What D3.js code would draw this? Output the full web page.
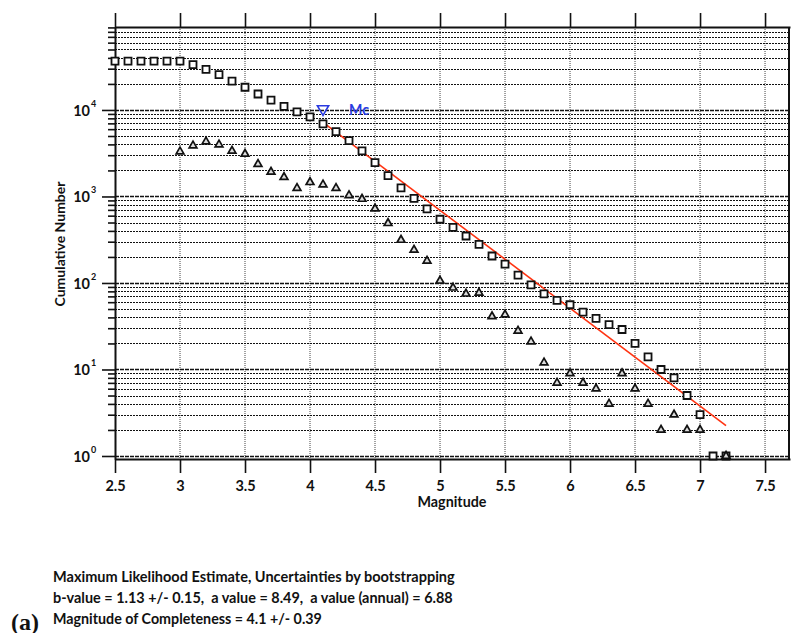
<!DOCTYPE html>
<html>
<head>
<meta charset="utf-8">
<script src="https://cdn.jsdelivr.net/npm/d3@7"></script>
<style>
body { margin: 0; background: #fff; }
svg text { font-family: Lato, "Open Sans", sans-serif; font-weight: 700; fill: #111; white-space: pre; }
</style>
</head>
<body>
<svg id="chart" width="791" height="633"></svg>
<script>
// magnitude bins and cumulative counts (squares)
var magnitudes = [2.5, 2.6, 2.7, 2.8, 2.9, 3.0, 3.1, 3.2, 3.3, 3.4, 3.5, 3.6, 3.7, 3.8, 3.9, 4.0,
    4.1, 4.2, 4.3, 4.4, 4.5, 4.6, 4.7, 4.8, 4.9, 5.0, 5.1, 5.2, 5.3, 5.4, 5.5, 5.6, 5.7, 5.8, 5.9,
    6.0, 6.1, 6.2, 6.3, 6.4, 6.5, 6.6, 6.7, 6.8, 6.9, 7.0, 7.1, 7.2];
var cumulative = [36700, 36700, 36700, 36700, 36700, 36700, 33400, 29500, 25600, 21600, 18300,
    15300, 13000, 11000, 9480, 8300, 6890, 5610, 4420, 3360, 2460, 1740, 1260, 953, 717, 545, 440,
    349, 280, 205, 165, 123, 95, 75, 63, 56, 46, 39, 33, 29, 20, 14, 10, 8, 5, 3, 1, 1];

// non-cumulative counts per bin (triangles)
var binMagnitudes = [3.0, 3.1, 3.2, 3.3, 3.4, 3.5, 3.6, 3.7, 3.8, 3.9, 4.0, 4.1, 4.2, 4.3, 4.4,
    4.5, 4.6, 4.7, 4.8, 4.9, 5.0, 5.1, 5.2, 5.3, 5.4, 5.5, 5.6, 5.7, 5.8, 5.9, 6.0, 6.1, 6.2, 6.3,
    6.4, 6.5, 6.6, 6.7, 6.8, 6.9, 7.0, 7.2];
var binCounts = [3300, 3870, 4300, 3970, 3360, 3100, 2370, 1920, 1670, 1250, 1460, 1370, 1250,
    1030, 935, 722, 490, 314, 241, 180, 106, 88, 75, 77, 41, 43, 28, 21, 12, 7, 9, 7, 6, 4, 9, 6,
    4, 2, 3, 2, 2, 1];

// Gutenberg-Richter fit line endpoints
var fitMagnitudes = [4.1, 7.2];
var fitCounts = [7200, 2.25];

// magnitude of completeness marker
var mc = 4.1;
var mcCount = 10000;

var xTickValues = [2.5, 3, 3.5, 4, 4.5, 5, 5.5, 6, 6.5, 7, 7.5];

var infoLines = [
    'Maximum Likelihood Estimate, Uncertainties by bootstrapping',
    'b-value = 1.13 +/- 0.15,  a value = 8.49,  a value (annual) = 6.88',
    'Magnitude of Completeness = 4.1 +/- 0.39'
];

var LEFT = 115, RIGHT = 790, TOP = 27, BOTTOM = 459;

var svg = d3.select('#chart');

var x = d3.scaleLinear().domain([2.5, 7.692]).range([LEFT, RIGHT]);
var y = d3.scaleLog().domain([0.923, 91000]).range([BOTTOM, TOP]);

function isMajor(d) {
    var l = Math.log10(d);
    return Math.abs(l - Math.round(l)) < 1e-9;
}

// shrink or grow a text so it spans the given width
function fitWidth(sel, base, width) {
    sel.style('font-size', base + 'px');
    var w = sel.node().getComputedTextLength();
    sel.style('font-size', (base * width / w) + 'px');
}

var yTicks = y.ticks();

// grid
var grid = svg.append('g');
grid.selectAll('line.v')
    .data(xTickValues.filter((d) => d > 2.5))
    .enter().append('line')
    .attr('x1', (d) => x(d)).attr('x2', (d) => x(d))
    .attr('y1', TOP).attr('y2', BOTTOM)
    .attr('stroke', '#444')
    .attr('stroke-width', 1)
    .attr('stroke-dasharray', '1,1');

grid.selectAll('line.h')
    .data(yTicks)
    .enter().append('line')
    .attr('x1', LEFT).attr('x2', RIGHT)
    .attr('y1', (d) => Math.round(y(d)) + 0.5).attr('y2', (d) => Math.round(y(d)) + 0.5)
    .attr('stroke', '#111')
    .attr('stroke-width', (d) => isMajor(d) ? 1.6 : 1.1)
    .attr('stroke-dasharray', (d) => isMajor(d) ? '4,1' : '2,1');

// axes
var bottomAxis = svg.append('g')
    .attr('transform', 'translate(0,' + BOTTOM + ')')
    .call(d3.axisBottom(x).tickValues(xTickValues).tickSize(14).tickSizeOuter(0).tickPadding(8)
        .tickFormat((d) => String(d)));
bottomAxis.selectAll('text').style('font-size', '14.5px');

var topAxis = svg.append('g')
    .attr('transform', 'translate(0,' + TOP + ')')
    .call(d3.axisTop(x).tickValues(xTickValues).tickSize(14).tickSizeOuter(0).tickFormat(''));

var leftAxis = svg.append('g')
    .attr('transform', 'translate(' + LEFT + ',0)')
    .call(d3.axisLeft(y).tickValues(yTicks).tickSize(7).tickSizeOuter(0).tickFormat(''));
leftAxis.selectAll('.tick line')
    .attr('x2', (d) => isMajor(d) ? -13 : -7);

[bottomAxis, topAxis, leftAxis].forEach(function(a) {
    a.select('.domain').attr('stroke', '#111').attr('stroke-width', 2);
    a.selectAll('.tick line').attr('stroke', '#111').attr('stroke-width', 1.6);
});

svg.append('line')
    .attr('x1', RIGHT - 1).attr('x2', RIGHT - 1)
    .attr('y1', TOP).attr('y2', BOTTOM)
    .attr('stroke', '#111').attr('stroke-width', 2);

// y tick labels 10^n
var majors = yTicks.filter(isMajor);
var yLabels = svg.append('g');
yLabels.selectAll('text.base')
    .data(majors)
    .enter().append('text')
    .attr('x', 90)
    .attr('y', (d) => y(d) + 6)
    .attr('text-anchor', 'end')
    .style('font-size', '14.5px')
    .text('10');
yLabels.selectAll('text.exp')
    .data(majors)
    .enter().append('text')
    .attr('x', 91)
    .attr('y', (d) => y(d) - 3)
    .style('font-size', '9px')
    .text((d) => Math.round(Math.log10(d)));

// axis titles
svg.append('text')
    .attr('transform', 'translate(65,244)rotate(-90)')
    .attr('text-anchor', 'middle')
    .text('Cumulative Number')
    .call(fitWidth, 14, 125);

svg.append('text')
    .attr('x', 452)
    .attr('y', 507)
    .attr('text-anchor', 'middle')
    .text('Magnitude')
    .call(fitWidth, 14, 69);

// fit line
var fitData = fitMagnitudes.map((m, i) => ({m: m, n: fitCounts[i]}));
svg.append('path')
    .datum(fitData)
    .attr('fill', 'none')
    .attr('stroke', '#ff3311')
    .attr('stroke-width', 1.6)
    .attr('d', d3.line().x((d) => x(d.m)).y((d) => y(d.n)));

// cumulative squares
svg.append('g').selectAll('path')
    .data(magnitudes.map((m, i) => ({m: m, n: cumulative[i]})))
    .enter().append('path')
    .attr('transform', (d) => 'translate(' + x(d.m) + ',' + y(d.n) + ')')
    .attr('d', d3.symbol(d3.symbolSquare, 49))
    .attr('fill', '#fff')
    .attr('stroke', '#111')
    .attr('stroke-width', 1.8);

// non-cumulative triangles
svg.append('g').selectAll('path')
    .data(binMagnitudes.map((m, i) => ({m: m, n: binCounts[i]})))
    .enter().append('path')
    .attr('transform', (d) => 'translate(' + x(d.m) + ',' + y(d.n) + ')')
    .attr('d', d3.symbol(d3.symbolTriangle, 26))
    .attr('fill', '#ddd')
    .attr('stroke', '#111')
    .attr('stroke-width', 1.7);

// Mc marker
svg.append('path')
    .attr('transform', 'translate(' + x(mc) + ',' + (y(mcCount) - 1) + ')rotate(180)')
    .attr('d', d3.symbol(d3.symbolTriangle, 55))
    .attr('fill', 'none')
    .attr('stroke', '#2a3be0')
    .attr('stroke-width', 1.6);

svg.append('text')
    .attr('x', x(4.3))
    .attr('y', y(mcCount) + 5)
    .style('fill', '#2a3be0')
    .text('Mc')
    .call(fitWidth, 14, 20);

// info text
var infoWidths = [402, 400, 269];
svg.append('g').selectAll('text')
    .data(infoLines)
    .enter().append('text')
    .attr('x', 53)
    .attr('y', (d, i) => 582 + i * 21)
    .text((d) => d)
    .each(function(d, i) {
        fitWidth(d3.select(this), 13, infoWidths[i]);
    });

svg.append('text')
    .attr('x', 11)
    .attr('y', 630)
    .style('font-family', '"Liberation Serif", "DejaVu Serif", serif')
    .style('font-size', '24px')
    .text('(a)');
</script>
</body>
</html>
